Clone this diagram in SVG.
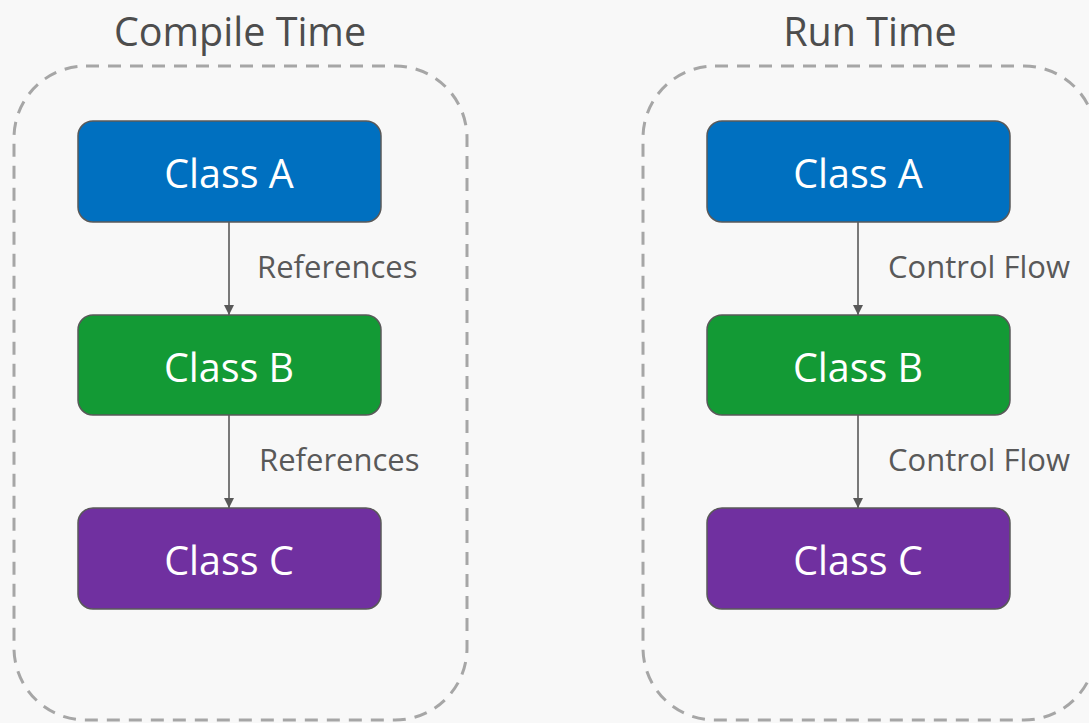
<svg xmlns="http://www.w3.org/2000/svg" width="1089" height="723" viewBox="0 0 1089 723">
<style>
.bg{fill:#f8f8f8}
.cont{fill:none;stroke:#a6a6a6;stroke-width:3;stroke-dasharray:13 9}
.title{font-family:"Open Sans","Noto Sans",sans-serif;font-size:39.5px;fill:#4d4d4d;text-anchor:middle}
.node{stroke:#595959;stroke-width:1.5}
.ntext{font-family:"Open Sans","Noto Sans",sans-serif;font-size:39.5px;fill:#ffffff;text-anchor:middle}
.edge{stroke:#595959;stroke-width:1.6;fill:none}
.lbl{font-family:"Open Sans","Noto Sans",sans-serif;font-size:31px;fill:#595959}
</style>
<defs>
<marker id="arr" viewBox="0 0 10 10" refX="10" refY="5" markerWidth="10" markerHeight="10" markerUnits="userSpaceOnUse" orient="auto">
<path d="M0,0 L10,5 L0,10 Z" fill="#595959"/>
</marker>
</defs>
<rect class="bg" x="0" y="0" width="1089" height="723"/>
<g id="compile-time">
<rect class="cont" x="14" y="66" width="453" height="654" rx="72" ry="72"/>
<text class="title" x="240" y="46">Compile Time</text>
</g>
<g id="run-time">
<rect class="cont" x="643" y="66" width="453" height="654" rx="72" ry="72"/>
<text class="title" x="870" y="46">Run Time</text>
</g>
<g id="connectors">
<line class="edge" x1="229" y1="222" x2="229" y2="315" marker-end="url(#arr)"/>
<line class="edge" x1="229" y1="415" x2="229" y2="508" marker-end="url(#arr)"/>
<line class="edge" x1="858" y1="222" x2="858" y2="315" marker-end="url(#arr)"/>
<line class="edge" x1="858" y1="415" x2="858" y2="508" marker-end="url(#arr)"/>
<text class="lbl" x="257" y="278">References</text>
<text class="lbl" x="259" y="471">References</text>
<text class="lbl" x="888" y="278">Control Flow</text>
<text class="lbl" x="888" y="471">Control Flow</text>
</g>
<g id="ct-class-a">
<rect class="node" x="78" y="121" width="303" height="101" rx="15" fill="#0070c0"/>
<text class="ntext" x="229" y="188">Class A</text>
</g>
<g id="ct-class-b">
<rect class="node" x="78" y="315" width="303" height="100" rx="15" fill="#139a35"/>
<text class="ntext" x="229" y="382">Class B</text>
</g>
<g id="ct-class-c">
<rect class="node" x="78" y="508" width="303" height="101" rx="15" fill="#7030a0"/>
<text class="ntext" x="229" y="575">Class C</text>
</g>
<g id="rt-class-a">
<rect class="node" x="707" y="121" width="303" height="101" rx="15" fill="#0070c0"/>
<text class="ntext" x="858" y="188">Class A</text>
</g>
<g id="rt-class-b">
<rect class="node" x="707" y="315" width="303" height="100" rx="15" fill="#139a35"/>
<text class="ntext" x="858" y="382">Class B</text>
</g>
<g id="rt-class-c">
<rect class="node" x="707" y="508" width="303" height="101" rx="15" fill="#7030a0"/>
<text class="ntext" x="858" y="575">Class C</text>
</g>
</svg>
